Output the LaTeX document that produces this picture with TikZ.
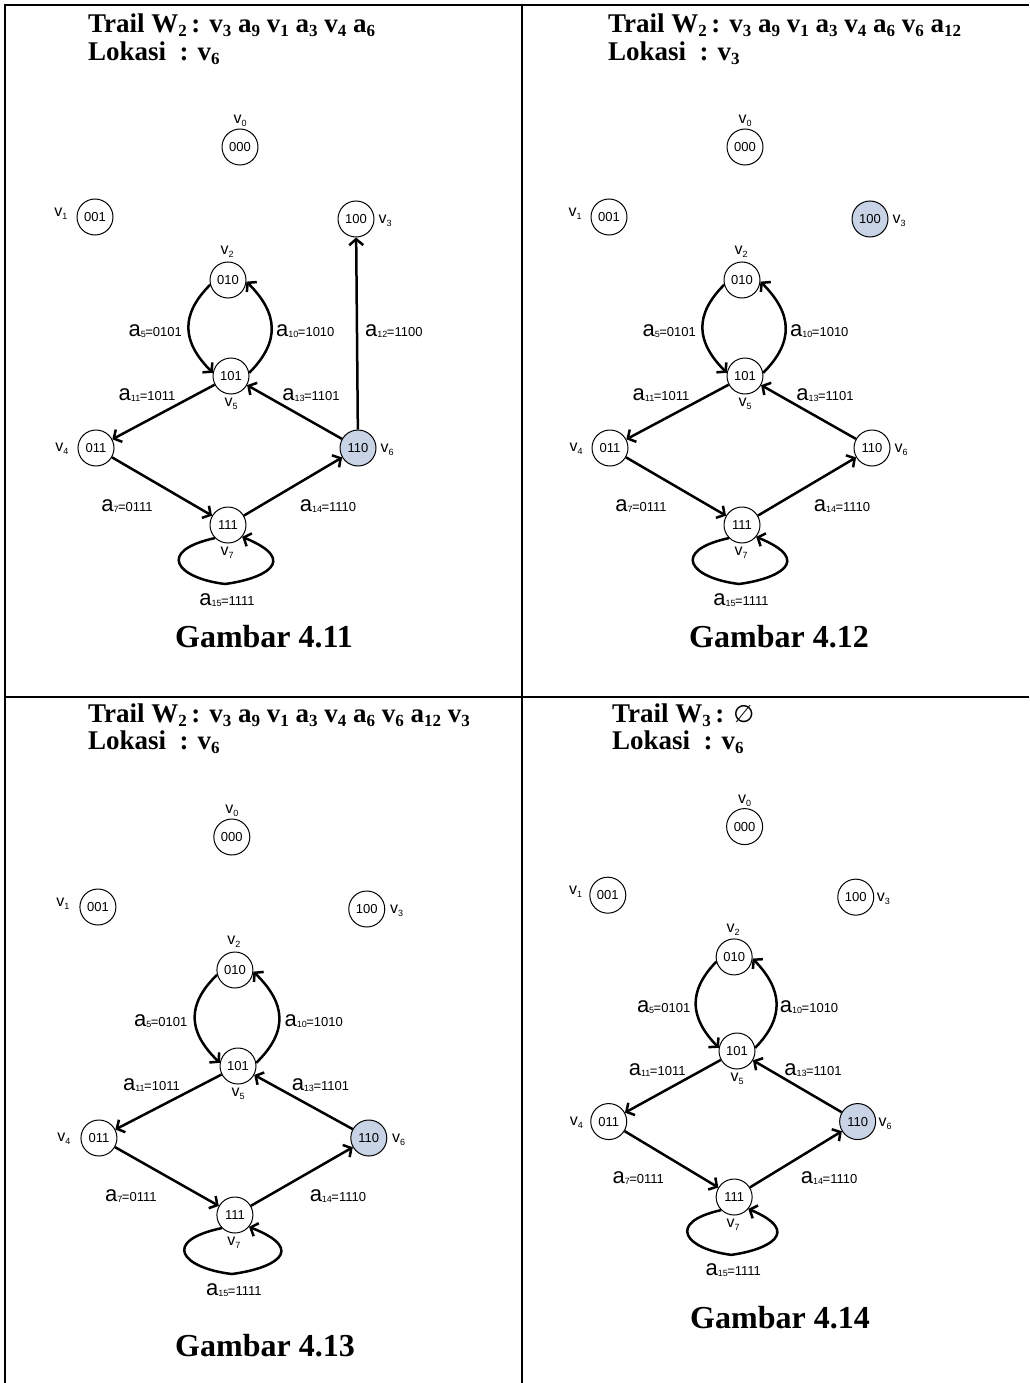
\documentclass[tikz,border=0pt]{standalone}
\usepackage{fontspec}
\setmainfont{Liberation Serif}
\newfontfamily\gsans{Liberation Sans}
\newfontfamily\djv{DejaVu Sans}
\usetikzlibrary{arrows.meta}

\newcommand\sbt[1]{\raisebox{-4pt}{\fontsize{17}{17}\selectfont #1}}
\newcommand\vl[1]{{\fontsize{16}{16}\selectfont v}\raisebox{-3pt}{\fontsize{9}{9}\selectfont #1}}
\newcommand\el[2]{{\fontsize{22}{22}\selectfont a}\raisebox{-1pt}{\fontsize{9}{9}\selectfont #1}\kern-0.5pt{\fontsize{13}{13}\selectfont =#2}}

\tikzset{
 vtx/.style={circle, draw, line width=1pt, minimum size=36pt, inner sep=0pt, font=\gsans\fontsize{13}{13}\selectfont, fill=white},
 hl/.style={fill={rgb,255:red,200;green,211;blue,229}},
 lab/.style={inner sep=0pt, font=\gsans},
 arr/.style={line width=2.5pt, -{Straight Barb[length=6pt,width=14pt]}},
 gridline/.style={line width=2pt},
 ttl/.style={anchor=base west, inner sep=0pt, font=\fontsize{27}{27}\selectfont\bfseries},
 capt/.style={anchor=base, inner sep=0pt, font=\fontsize{32}{32}\selectfont\bfseries},
 s100/.style={}, s110/.style={},
}

% #1 prefix, #2 x of node 000
\newcommand\gpanel[2]{%
 \node[vtx] (#1-000) at (#2,229) {000};
 \node[vtx] (#1-001) at (-136,159) {001};
 \node[vtx,s100] (#1-100) at (125,157) {100};
 \node[vtx] (#1-010) at (-3,96) {010};
 \node[vtx] (#1-101) at (0,0) {101};
 \node[vtx] (#1-011) at (-135,-72) {011};
 \node[vtx,s110] (#1-110) at (127,-72) {110};
 \node[vtx] (#1-111) at (-3,-149) {111};
 \node[lab] (#1-v0) at (#2,255) {\vl{0}};
 \node[lab] (#1-v1) at (-170,162) {\vl{1}};
 \node[lab] (#1-v3) at (154,155) {\vl{3}};
 \node[lab] (#1-v2) at (-4,124) {\vl{2}};
 \node[lab] (#1-v5) at (0,-28) {\vl{5}};
 \node[lab] (#1-v4) at (-169,-73) {\vl{4}};
 \node[lab] (#1-v6) at (156,-74) {\vl{6}};
 \node[lab] (#1-v7) at (-4,-177) {\vl{7}};
 \node[lab,anchor=east] (#1-l5) at (-49,45) {\el{5}{0101}};
 \node[lab,anchor=west] (#1-l10) at (45,45) {\el{10}{1010}};
 \node[lab] (#1-l11) at (-84,-19) {\el{11}{1011}};
 \node[lab] (#1-l13) at (80,-19) {\el{13}{1101}};
 \node[lab] (#1-l7) at (-104,-130) {\el{7}{0111}};
 \node[lab] (#1-l14) at (97,-130) {\el{14}{1110}};
 \node[lab] (#1-l15) at (-4,-224) {\el{15}{1111}};
 \draw[arr] (#1-010.195) to[out=225,in=135,looseness=1.25] (#1-101.170);
 \draw[arr] (#1-101.10) to[out=45,in=-45,looseness=1.25] (#1-010.-5);
 \draw[arr] (#1-110) -- (#1-101);
 \draw[arr] (#1-101) -- (#1-011);
 \draw[arr] (#1-011) -- (#1-111);
 \draw[arr] (#1-111) -- (#1-110);
 \draw[arr] (#1-111.225) .. controls (-75,-175) and (-55,-202) .. (-6,-208)
   .. controls (32,-203) and (70,-185) .. (#1-111.-40);
}

\begin{document}
\begin{tikzpicture}[x=1pt,y=1pt]
\useasboundingbox (0,0) rectangle (1029,-1383);
\fill[white] (0,0) rectangle (1029,-1383);
\draw[gridline] (1029,-5) -- (5,-5) -- (5,-1383);
\draw[gridline] (5,-697) -- (1029,-697);
\draw[gridline] (522,-5) -- (522,-1383);

% panel 1
\node[ttl] (t1a) at (88,-33) {Trail W\sbt{2}\,: v\sbt{3} a\sbt{9} v\sbt{1} a\sbt{3} v\sbt{4} a\sbt{6}};
\node[ttl] (t1b) at (88,-61) {Lokasi~~: v\sbt{6}};
\begin{scope}[shift={(231,-376)}]
 \tikzset{s110/.style={hl}}
 \gpanel{p}{9}
 \node[lab,anchor=west] (p-l12) at (134,45) {\el{12}{1100}};
 \draw[arr] (p-110) -- (p-100);
\end{scope}
\node[capt] (c1) at (264,-647) {Gambar 4.11};

% panel 2
\node[ttl] (t2a) at (608,-33) {Trail W\sbt{2}\,: v\sbt{3} a\sbt{9} v\sbt{1} a\sbt{3} v\sbt{4} a\sbt{6} v\sbt{6} a\sbt{12}};
\node[ttl] (t2b) at (608,-61) {Lokasi~~: v\sbt{3}};
\begin{scope}[shift={(745,-376)}]
 \tikzset{s100/.style={hl}}
 \gpanel{q}{0}
\end{scope}
\node[capt] (c2) at (779,-647) {Gambar 4.12};

% panel 3
\node[ttl] (t3a) at (88,-722) {Trail W\sbt{2}\,: v\sbt{3} a\sbt{9} v\sbt{1} a\sbt{3} v\sbt{4} a\sbt{6} v\sbt{6} a\sbt{12} v\sbt{3}};
\node[ttl] (t3b) at (88,-749) {Lokasi~~: v\sbt{6}};
\begin{scope}[shift={(238,-1066)},xscale=1.03]
 \tikzset{s110/.style={hl}}
 \gpanel{r}{-6}
\end{scope}
\node[capt] (c3) at (265,-1356) {Gambar 4.13};

% panel 4
\node[ttl] (t4a) at (612,-722) {Trail W\sbt{3}\,: {\djv\mdseries\fontsize{24}{24}\selectfont ∅}};
\node[ttl] (t4b) at (612,-749) {Lokasi~~: v\sbt{6}};
\begin{scope}[shift={(737,-1051)},xscale=0.95,yscale=0.98]
 \tikzset{s110/.style={hl}}
 \gpanel{s}{8}
\end{scope}
\node[capt] (c4) at (780,-1328) {Gambar 4.14};
\end{tikzpicture}
\end{document}
